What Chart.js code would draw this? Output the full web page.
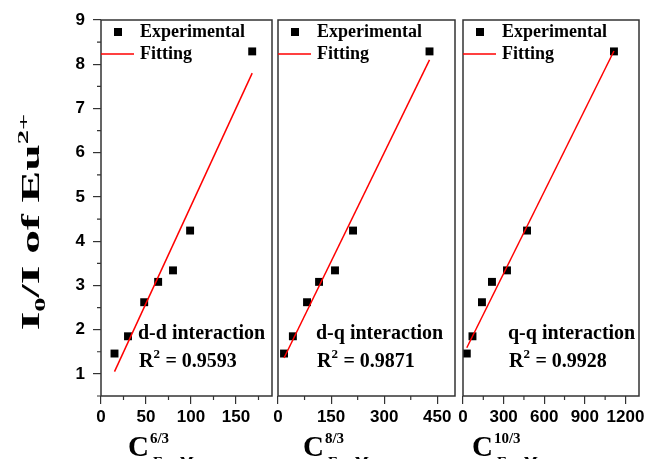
<!DOCTYPE html>
<html>
<head>
<meta charset="utf-8">
<script src="https://cdn.jsdelivr.net/npm/chart.js@4.4.1/dist/chart.umd.min.js"></script>
<style>
  html, body { margin: 0; padding: 0; background: #fff; }
  #wrap { position: relative; width: 646px; height: 459px; overflow: hidden; }
  #wrap canvas { position: absolute; left: 0; top: 0; }
</style>
</head>
<body>
<div id="wrap">
  <canvas id="p1" width="646" height="459"></canvas>
  <canvas id="p2" width="646" height="459"></canvas>
  <canvas id="p3" width="646" height="459"></canvas>
</div>
<script>
// I0/I of Eu2+ , same measured points in every panel
const ratio = [1.46, 1.85, 2.62, 3.08, 3.34, 4.24, 8.29];

// C^(6/3), C^(8/3), C^(10/3) of Eu+Mn
const cDD = [15, 30, 48, 63.5, 80, 99, 168];
const cDQ = [17, 42, 82, 116, 161, 212, 428];
const cQQ = [28, 70, 140, 214, 325, 473, 1115];

// fitted lines (end points)
const fitDD = [[15, 1.05], [168, 7.8]];
const fitDQ = [[17, 1.36], [428, 8.1]];
const fitQQ = [[28, 1.59], [1115, 8.3]];

const yTicks = [1, 2, 3, 4, 5, 6, 7, 8, 9];
const yMinor = [0.5, 1.5, 2.5, 3.5, 4.5, 5.5, 6.5, 7.5, 8.5];
const xTicksDD = [0, 50, 100, 150];
const xMinorDD = [25, 75, 125, 175];
const xTicksDQ = [0, 150, 300, 450];
const xMinorDQ = [75, 225, 375];
const xTicksQQ = [0, 300, 600, 900, 1200];
const xMinorQQ = [150, 450, 750, 1050];

const labelsDD = ['d-d interaction', '0.9593'];
const labelsDQ = ['d-q interaction', '0.9871'];
const labelsQQ = ['q-q interaction', '0.9928'];

const SERIF = '"Liberation Serif", "Times New Roman", serif';
const SANS = '"Liberation Sans", Arial, sans-serif';
const FRAME = '#333';

// frame, minor ticks, legend, notes and axis titles
const decor = {
  id: 'decor',
  afterDraw(chart, args, o) {
    const ctx = chart.ctx;
    const a = chart.chartArea;
    const xs = chart.scales.x, ys = chart.scales.y;
    ctx.save();
    ctx.strokeStyle = FRAME;
    ctx.lineWidth = 1.5;
    ctx.strokeRect(a.left, a.top, a.right - a.left, a.bottom - a.top);

    ctx.lineWidth = 1.2;
    ctx.beginPath();
    o.xMinor.forEach(v => {
      const px = xs.getPixelForValue(v);
      ctx.moveTo(px, a.bottom); ctx.lineTo(px, a.bottom + 4);
    });
    if (o.yAxis) {
      yMinor.forEach(v => {
        const py = ys.getPixelForValue(v);
        ctx.moveTo(a.left, py); ctx.lineTo(a.left - 4, py);
      });
    }
    ctx.stroke();

    // legend
    ctx.fillStyle = '#000';
    ctx.fillRect(a.left + 13, 28, 8, 8);
    ctx.strokeStyle = '#ff0000';
    ctx.lineWidth = 1.5;
    ctx.beginPath();
    ctx.moveTo(a.left, 54); ctx.lineTo(a.left + 33, 54);
    ctx.stroke();
    ctx.font = 'bold 18px ' + SERIF;
    ctx.textBaseline = 'middle';
    ctx.textAlign = 'left';
    ctx.fillText('Experimental', a.left + 39, 32);
    ctx.fillText('Fitting', a.left + 39, 54);

    // interaction type and R2
    const tx = a.left + o.noteX;
    ctx.font = 'bold 20px ' + SERIF;
    ctx.fillText(o.notes[0], tx, 334);
    ctx.fillText('R', tx + 1, 362);
    const rw = ctx.measureText('R').width;
    ctx.font = 'bold 13px ' + SERIF;
    ctx.fillText('2', tx + 1 + rw, 355);
    ctx.font = 'bold 20px ' + SERIF;
    ctx.fillText(' = ' + o.notes[1], tx + 1 + rw + 7, 362);

    // x axis title C^p_(Eu+Mn)
    const cx = o.titleX;
    ctx.textBaseline = 'alphabetic';
    ctx.font = 'bold 29px ' + SERIF;
    ctx.fillText('C', cx, 456);
    const cw = ctx.measureText('C').width;
    ctx.font = 'bold 15px ' + SERIF;
    ctx.fillText(o.power, cx + cw + 1, 443);
    ctx.fillText('Eu+Mn', cx + cw + 4, 467);

    if (o.yAxis) {
      ctx.translate(30, 222);
      ctx.rotate(-Math.PI / 2);
      ctx.scale(1.9, 1);
      ctx.textAlign = 'left';
      const parts = [
        ['I', 25, 0], ['0', 15, 6], ['/I of Eu', 25, 0], ['2+', 15, -11]
      ];
      let total = 0;
      parts.forEach(p => { ctx.font = 'bold ' + p[1] + 'px ' + SERIF; total += ctx.measureText(p[0]).width; });
      let x = -total / 2;
      parts.forEach(p => {
        ctx.font = 'bold ' + p[1] + 'px ' + SERIF;
        ctx.fillText(p[0], x, 9 + p[2]);
        x += ctx.measureText(p[0]).width;
      });
    }
    ctx.restore();
  }
};

function makePanel(id, xs, fit, xMax, xTicks, xMinor, notes, power, left, right, noteX, titleX, yAxis) {
  const pts = xs.map((x, i) => ({ x: x, y: ratio[i] }));
  const line = fit.map(p => ({ x: p[0], y: p[1] }));
  return new Chart(document.getElementById(id), {
    type: 'scatter',
    data: {
      datasets: [
        {
          type: 'line', label: 'Fitting', data: line,
          borderColor: '#ff0000', borderWidth: 1.5, pointRadius: 0,
          fill: false, order: 0
        },
        {
          label: 'Experimental', data: pts,
          pointStyle: 'rect', pointRadius: 5.6,
          backgroundColor: '#000', borderColor: '#000', borderWidth: 0,
          order: 1
        }
      ]
    },
    options: {
      responsive: false,
      animation: false,
      layout: { padding: { left: yAxis ? 0 : left, right: 646 - right, top: 20, bottom: 0 } },
      plugins: {
        legend: { display: false },
        tooltip: { enabled: false },
        decor: { xMinor: xMinor, notes: notes, power: power, noteX: noteX, titleX: titleX, yAxis: yAxis }
      },
      scales: {
        x: {
          type: 'linear', min: 0, max: xMax,
          afterBuildTicks: s => { s.ticks = xTicks.map(v => ({ value: v })); },
          afterFit: s => { s.height = 63; s.paddingLeft = 0; s.paddingRight = 0; },
          grid: { drawOnChartArea: false, tickLength: 8, tickColor: FRAME, lineWidth: 1.2 },
          border: { display: false },
          ticks: {
            color: '#000', padding: 3, maxRotation: 0, autoSkip: false,
            callback: v => String(v),
            font: { family: SANS, size: 17, weight: 'bold' }
          }
        },
        y: {
          display: yAxis,
          min: 0.5, max: 9,
          afterBuildTicks: s => { s.ticks = yTicks.map(v => ({ value: v })); },
          afterFit: s => { if (yAxis) s.width = left; },
          grid: { drawOnChartArea: false, tickLength: 8, tickColor: FRAME, lineWidth: 1.2 },
          border: { display: false },
          ticks: { color: '#000', padding: 8, font: { family: SANS, size: 17, weight: 'bold' } }
        }
      }
    },
    plugins: [decor]
  });
}

makePanel('p1', cDD, fitDD, 190, xTicksDD, xMinorDD, labelsDD, '6/3', 101, 272, 37, 128, true);
makePanel('p2', cDQ, fitDQ, 500, xTicksDQ, xMinorDQ, labelsDQ, '8/3', 278, 455, 38, 303, false);
makePanel('p3', cQQ, fitQQ, 1300, xTicksQQ, xMinorQQ, labelsQQ, '10/3', 463, 639, 45, 472, false);
</script>
</body>
</html>
